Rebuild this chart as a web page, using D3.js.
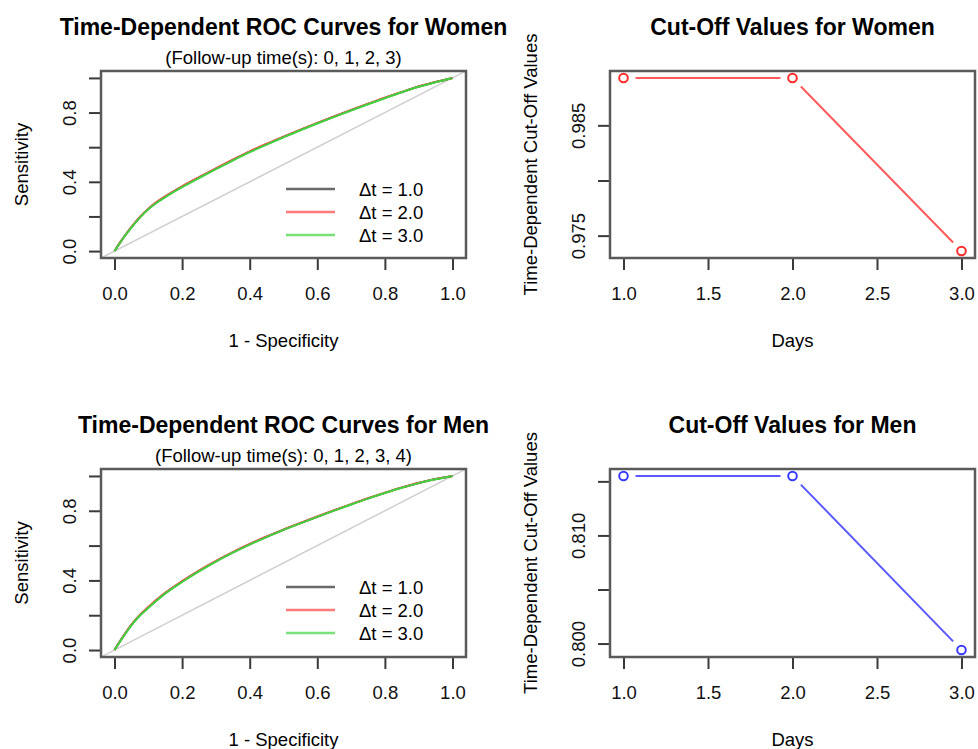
<!DOCTYPE html>
<html>
<head>
<meta charset="utf-8">
<script src="https://cdn.jsdelivr.net/npm/d3@7"></script>
<style>
  body { margin: 0; background: #fff; }
  svg { font-family: "Liberation Sans", Arial, Helvetica, sans-serif; }
</style>
</head>
<body>
<svg id="chart" width="978" height="749"></svg>
<script>

// ROC curves: false positive rate (1 - specificity) shared by every series
const fpr = [0, 0.01, 0.02, 0.035, 0.05, 0.075, 0.1, 0.125, 0.15, 0.2, 0.25, 0.3, 0.35,
             0.4, 0.45, 0.5, 0.55, 0.6, 0.65, 0.7, 0.75, 0.8, 0.85, 0.9, 0.95, 1];

const womenSens1 = [0, 0.03, 0.059, 0.1, 0.138, 0.195, 0.243, 0.282, 0.314, 0.372, 0.425, 0.476, 0.526,
                    0.574, 0.618, 0.66, 0.7, 0.739, 0.777, 0.814, 0.85, 0.885, 0.918, 0.95, 0.976, 1];
const womenSens2 = [0, 0.031, 0.06, 0.101, 0.139, 0.197, 0.245, 0.284, 0.316, 0.374, 0.427, 0.478, 0.528,
                    0.576, 0.62, 0.661, 0.701, 0.74, 0.778, 0.815, 0.851, 0.886, 0.919, 0.95, 0.976, 1];
const womenSens3 = [0, 0.029, 0.058, 0.099, 0.136, 0.193, 0.241, 0.279, 0.311, 0.369, 0.422, 0.473, 0.523,
                    0.571, 0.615, 0.657, 0.698, 0.737, 0.775, 0.812, 0.848, 0.883, 0.917, 0.949, 0.975, 1];

const menSens1 = [0, 0.031, 0.061, 0.104, 0.144, 0.2, 0.244, 0.288, 0.327, 0.394, 0.455, 0.51, 0.561,
                  0.608, 0.651, 0.691, 0.729, 0.766, 0.802, 0.837, 0.871, 0.903, 0.933, 0.96, 0.982, 1];
const menSens2 = [0, 0.032, 0.062, 0.105, 0.146, 0.202, 0.247, 0.29, 0.329, 0.396, 0.457, 0.512, 0.562,
                  0.609, 0.652, 0.692, 0.73, 0.767, 0.803, 0.838, 0.872, 0.904, 0.934, 0.961, 0.982, 1];
const menSens3 = [0, 0.03, 0.06, 0.102, 0.142, 0.198, 0.242, 0.285, 0.324, 0.391, 0.452, 0.508, 0.559,
                  0.606, 0.649, 0.69, 0.728, 0.765, 0.801, 0.836, 0.87, 0.902, 0.932, 0.959, 0.981, 1];

const legendLabels = ["\u0394t = 1.0", "\u0394t = 2.0", "\u0394t = 3.0"];
const rocColors = ["#333333", "#ff4a4a", "#3fd33f"];
const legendColors = ["#6a6a6a", "#ff7a7a", "#7ae07a"];

const rocTicks = [0, 0.2, 0.4, 0.6, 0.8, 1.0];
const rocYLabelled = [0, 0.4, 0.8];

// cut-off values per day
const days = [1, 2, 3];
const womenCutoffs = [0.9893, 0.9893, 0.9736];
const menCutoffs = [0.8155, 0.8155, 0.7994];

const dayTicks = [1.0, 1.5, 2.0, 2.5, 3.0];
const womenCutTicks = [0.975, 0.980, 0.985];
const womenCutLabelled = [0.975, 0.985];
const menCutTicks = [0.800, 0.805, 0.810, 0.815];
const menCutLabelled = [0.800, 0.810];

const svg = d3.select("#chart");
const FONT = 18.5;

// R style range: data extent widened by 4% on each side
function rDomain(values) {
  const [lo, hi] = d3.extent(values);
  const pad = (hi - lo) * 0.04;
  return [lo - pad, hi + pad];
}

/*
    Draws box, axes, tick labels and titles around a plot region
 */
function frame(box, x, y, opts) {
  const g = svg.append("g");

  // x axis
  const xa = g.append("g")
      .attr("transform", `translate(0,${box.y1})`)
      .call(d3.axisBottom(x).tickValues(opts.xTicks).tickSize(12).tickPadding(17)
              .tickFormat(d3.format(".1f")));
  // y axis, labels rotated like R's las = 0
  const ya = g.append("g")
      .attr("transform", `translate(${box.x0},0)`)
      .call(d3.axisLeft(y).tickValues(opts.yTicks).tickSize(12)
              .tickFormat(d => opts.yLabelled.some(v => Math.abs(v - d) < 1e-9) ? opts.yFormat(d) : ""));

  [xa, ya].forEach(a => {
    a.select(".domain").remove();
    a.selectAll("line").attr("stroke", "#3a3a3a").attr("stroke-width", 2);
    a.selectAll("text").attr("fill", "#111").style("font-size", FONT + "px");
  });
  ya.selectAll("text")
      .attr("x", null).attr("dy", null).attr("y", null)
      .attr("text-anchor", "middle")
      .attr("transform", "translate(-25.5,0) rotate(-90)");

  // box
  g.append("rect")
      .attr("x", box.x0).attr("y", box.y0)
      .attr("width", box.x1 - box.x0).attr("height", box.y1 - box.y0)
      .attr("fill", "none").attr("stroke", "#5a5a5a").attr("stroke-width", 2.5);

  const cx = (box.x0 + box.x1) / 2;
  const cy = (box.y0 + box.y1) / 2;

  g.append("text")
      .attr("x", cx).attr("y", box.y0 - 36)
      .attr("text-anchor", "middle")
      .style("font-size", "23px").style("font-weight", "bold")
      .text(opts.title);
  if (opts.subtitle) {
    g.append("text")
        .attr("x", cx).attr("y", box.y0 - 7)
        .attr("text-anchor", "middle")
        .style("font-size", FONT + "px")
        .text(opts.subtitle);
  }
  g.append("text")
      .attr("x", cx).attr("y", box.y1 + 89)
      .attr("text-anchor", "middle")
      .style("font-size", FONT + "px")
      .text(opts.xTitle);
  g.append("text")
      .attr("transform", `translate(${box.x0 - 73},${cy}) rotate(-90)`)
      .attr("text-anchor", "middle")
      .style("font-size", FONT + "px")
      .text(opts.yTitle);
}

function drawRoc(box, series, title, subtitle) {
  const x = d3.scaleLinear().domain(rDomain([0, 1])).range([box.x0, box.x1]);
  const y = d3.scaleLinear().domain(rDomain([0, 1])).range([box.y1, box.y0]);

  const clipId = "clip" + Math.round(box.x0) + "_" + Math.round(box.y0);
  svg.append("clipPath").attr("id", clipId)
    .append("rect")
      .attr("x", box.x0).attr("y", box.y0)
      .attr("width", box.x1 - box.x0).attr("height", box.y1 - box.y0);

  const plot = svg.append("g").attr("clip-path", `url(#${clipId})`);

  // reference diagonal (abline 0,1) across the whole region
  const dom = x.domain();
  plot.append("line")
      .attr("x1", x(dom[0])).attr("y1", y(dom[0]))
      .attr("x2", x(dom[1])).attr("y2", y(dom[1]))
      .attr("stroke", "#cfcfcf").attr("stroke-width", 1.5);

  const line = d3.line()
      .x((d, i) => x(fpr[i]))
      .y(d => y(d))
      .curve(d3.curveMonotoneX);
  series.forEach((s, k) => {
    plot.append("path")
        .attr("d", line(s))
        .attr("fill", "none")
        .attr("stroke", rocColors[k])
        .attr("stroke-width", 2);
  });

  // legend, no border
  const leg = svg.append("g");
  legendLabels.forEach((lab, k) => {
    const ly = box.y0 + 118 + k * 23;
    leg.append("line")
        .attr("x1", box.x0 + 185).attr("x2", box.x0 + 234)
        .attr("y1", ly).attr("y2", ly)
        .attr("stroke", legendColors[k]).attr("stroke-width", 2.5);
    leg.append("text")
        .attr("x", box.x0 + 258).attr("y", ly + 6.5)
        .style("font-size", FONT + "px")
        .text(lab);
  });

  frame(box, x, y, {
    xTicks: rocTicks, yTicks: rocTicks, yLabelled: rocYLabelled,
    yFormat: d3.format(".1f"),
    title: title, subtitle: subtitle,
    xTitle: "1 - Specificity", yTitle: "Sensitivity"
  });
}

function drawCutoff(box, values, lineColor, pointColor, yTicks, yLabelled, title) {
  const x = d3.scaleLinear().domain(rDomain(days)).range([box.x0, box.x1]);
  const y = d3.scaleLinear().domain(rDomain(values)).range([box.y1, box.y0]);

  const pts = days.map((d, i) => [x(d), y(values[i])]);
  const gap = 12;

  // type = "b": segments stop short of the points
  for (let i = 0; i < pts.length - 1; i++) {
    const [ax, ay] = pts[i], [bx, by] = pts[i + 1];
    const len = Math.hypot(bx - ax, by - ay);
    const ux = (bx - ax) / len, uy = (by - ay) / len;
    svg.append("line")
        .attr("x1", ax + ux * gap).attr("y1", ay + uy * gap)
        .attr("x2", bx - ux * gap).attr("y2", by - uy * gap)
        .attr("stroke", lineColor).attr("stroke-width", 2);
  }

  svg.append("g").selectAll("circle")
    .data(pts)
    .join("circle")
      .attr("cx", d => d[0]).attr("cy", d => d[1])
      .attr("r", 4.3)
      .attr("fill", "none")
      .attr("stroke", pointColor).attr("stroke-width", 2);

  frame(box, x, y, {
    xTicks: dayTicks, yTicks: yTicks, yLabelled: yLabelled,
    yFormat: d3.format(".3f"),
    title: title,
    xTitle: "Days", yTitle: "Time-Dependent Cut-Off Values"
  });
}

drawRoc({x0: 101, x1: 466, y0: 71, y1: 258},
        [womenSens1, womenSens2, womenSens3],
        "Time-Dependent ROC Curves for Women", "(Follow-up time(s): 0, 1, 2, 3)");
drawCutoff({x0: 610, x1: 975, y0: 71, y1: 258},
           womenCutoffs, "#ff5a5a", "#ff2a2a", womenCutTicks, womenCutLabelled,
           "Cut-Off Values for Women");

drawRoc({x0: 101, x1: 466, y0: 469, y1: 657},
        [menSens1, menSens2, menSens3],
        "Time-Dependent ROC Curves for Men", "(Follow-up time(s): 0, 1, 2, 3, 4)");
drawCutoff({x0: 610, x1: 975, y0: 469, y1: 657},
           menCutoffs, "#5a5aff", "#3a3aff", menCutTicks, menCutLabelled,
           "Cut-Off Values for Men");

</script>
</body>
</html>
